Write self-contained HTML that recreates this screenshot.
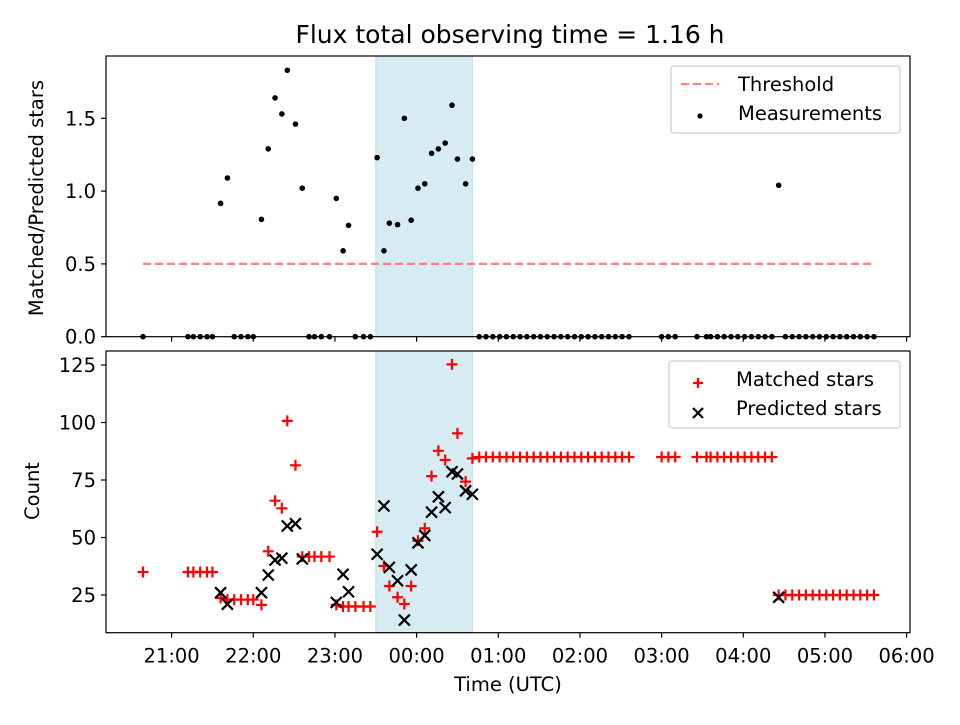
<!DOCTYPE html>
<html><head><meta charset="utf-8"><style>
body{margin:0;background:#fff;}
svg text{font-family:"DejaVu Sans","Liberation Sans",sans-serif;fill:#000;}
</style></head><body>
<svg id="chart" width="960" height="720" xmlns="http://www.w3.org/2000/svg">
<rect width="960" height="720" fill="#fff"/>
<text x="510" y="43" font-size="25" text-anchor="middle">Flux total observing time = 1.16 h</text>
<g id="topPanel"></g><g id="botPanel"></g>
</svg>
<script>
// minutes since 20:00 UTC
const times = [39,72,76,81,86,90,96,101,106,111,116,120,126,131,136,141,145,151,156,161,165,170,176,181,186,190,195,201,206,211,216,220,226,231,236,241,246,251,256,261,266,270,276,281,
286,291,296,301,306,311,316,321,326,331,336,341,346,351,356,361,366,371,376,381,386,391,396,
420,425,430,446,453,456,461,466,471,476,481,486,491,496,501,
506,511,516,521,526,531,536,541,546,551,556,561,566,571,576];
const ratio = [0,0,0,0,0,0,0.916,1.09,0,0,0,0,0.806,1.29,1.64,1.53,1.83,1.46,1.02,0,0,0,0,0.95,0.59,0.765,0,0,0,1.23,0.59,0.78,0.77,1.50,0.80,1.02,1.05,1.26,1.29,1.33,1.59,1.22,1.05,1.22,
0,0,0,0,0,0,0,0,0,0,0,0,0,0,0,0,0,0,0,0,0,0,0,
0,0,0,0,0,0,0,0,0,0,0,0,0,0,0,
1.04,0,0,0,0,0,0,0,0,0,0,0,0,0,0];
const matched = [35,35,35,35,35,35,23.7,23,23,23,23,23,20.7,44,66,62.7,100.7,81.4,41.7,41.7,41.7,41.7,41.7,20.7,20,20,20,20,20,52.5,37.6,28.9,24,21.1,28.9,48.6,54,76.7,87.7,83.7,125.3,95.3,74.3,84.4,
85,85,85,85,85,85,85,85,85,85,85,85,85,85,85,85,85,85,85,85,85,85,85,
85,85,85,85,85,85,85,85,85,85,85,85,85,85,85,
25,25,25,25,25,25,25,25,25,25,25,25,25,25,25];
const predTimes = [96,101,126,131,136,141,145,151,156,181,186,190,211,216,220,226,231,236,241,246,251,256,261,266,270,276,281,506];
const predicted = [26,21,26,33.7,40.2,41,55,56,40.7,21.8,34,26.4,42.7,63.7,37,31.2,14.1,35.9,47.7,50.9,61,67.7,63,78.6,77.6,70.3,68.8,24];
const threshold = 0.5;
const thresholdRange = [39,576];
const spanRange = [210,281];
const xTickMins = [60,120,180,240,300,360,420,480,540,600];
const xTickLabels = ["21:00","22:00","23:00","00:00","01:00","02:00","03:00","04:00","05:00","06:00"];
const topTicks = [0,0.5,1.0,1.5];
const topTickLabels = ["0.0","0.5","1.0","1.5"];
const botTicks = [25,50,75,100,125];

(function(){
const NS="http://www.w3.org/2000/svg";
const L=106,R=910;
const X0=11.8,X1=602.5;
const FS=19.5;
const x=m=>L+(m-X0)/(X1-X0)*(R-L);
const T={top:56,bot:336.7,y0:0,y1:1.928};
const B={top:351,bot:632.7,y0:8.6,y1:131.1};
const yT=v=>T.bot-(v-T.y0)/(T.y1-T.y0)*(T.bot-T.top);
const yB=v=>B.bot-(v-B.y0)/(B.y1-B.y0)*(B.bot-B.top);
function mk(p,tag,a){const e=document.createElementNS(NS,tag);for(const k in a)e.setAttribute(k,a[k]);p.appendChild(e);return e;}
const gTop=document.getElementById('topPanel'), gBot=document.getElementById('botPanel');

function axes(g,P,ticks,labels,yf,showX,nm){
  let s=mk(g,'rect',{x:x(spanRange[0]),y:P.top,width:x(spanRange[1])-x(spanRange[0]),height:P.bot-P.top,fill:'rgba(173,216,230,0.5)',stroke:'rgba(173,216,230,0.8)','stroke-width':1});
  
  
  ticks.forEach((t,i)=>{
    const y=yf(t);
    mk(g,'line',{x1:L-5,x2:L,y1:y,y2:y,stroke:'#000','stroke-width':1.2});
    const tx=mk(g,'text',{x:L-10,y:y+7,'font-size':FS,'text-anchor':'end'});
    tx.textContent=labels[i];
    
    
  });
  xTickMins.forEach((m,i)=>{
    mk(g,'line',{x1:x(m),x2:x(m),y1:P.bot,y2:P.bot+5,stroke:'#000','stroke-width':1.2});
    if(showX){const tx=mk(g,'text',{x:x(m),y:P.bot+30,'font-size':FS,'text-anchor':'middle'});tx.textContent=xTickLabels[i];
    
    }
  });
}
axes(gTop,T,topTicks,topTickLabels,yT,false,'top');
axes(gBot,B,botTicks,botTicks.map(String),yB,true,'bottom');

let th=mk(gTop,'line',{x1:x(thresholdRange[0]),x2:x(thresholdRange[1]),y1:yT(threshold),y2:yT(threshold),stroke:'#ff7f7f','stroke-width':2.2,'stroke-dasharray':'8,4'});


times.forEach((m,i)=>{
  const c=mk(gTop,'circle',{cx:x(m),cy:yT(ratio[i]),r:2.8,fill:'#000'});
  
  
});
times.forEach((m,i)=>{
  const cx=x(m),cy=yB(matched[i]);
  const p=mk(gBot,'path',{d:`M${cx-5.5} ${cy}H${cx+5.5}M${cx} ${cy-5.5}V${cy+5.5}`,stroke:'#ff0000','stroke-width':2.2,fill:'none'});
  
  
});
predTimes.forEach((m,i)=>{
  const cx=x(m),cy=yB(predicted[i]);
  const p=mk(gBot,'path',{d:`M${cx-5.5} ${cy-5.5}L${cx+5.5} ${cy+5.5}M${cx-5.5} ${cy+5.5}L${cx+5.5} ${cy-5.5}`,stroke:'#000','stroke-width':2.2,fill:'none'});
  
  
});
[[gTop,T],[gBot,B]].forEach(([g,P],k)=>{
  const f=mk(g,'rect',{x:L,y:P.top,width:R-L,height:P.bot-P.top,fill:'none',stroke:'#000','stroke-width':1.2});
  
  
});
function lbl(t,a,nm){const e=mk(document.getElementById('chart'),'text',a);e.textContent=t;

}
lbl('Matched/Predicted stars',{x:0,y:0,'font-size':FS,'text-anchor':'middle',transform:'translate(43,198) rotate(-90)'},'top-y-axis-title');
lbl('Count',{x:0,y:0,'font-size':FS,'text-anchor':'middle',transform:'translate(39,491) rotate(-90)'},'bottom-y-axis-title');
lbl('Time (UTC)',{x:508,y:691,'font-size':FS,'text-anchor':'middle'},'x-axis-title');
function legend(g,bx,by,w,items,nm){
  const r=mk(g,'rect',{x:bx,y:by,width:w,height:67,rx:3,fill:'rgba(255,255,255,0.8)',stroke:'#ccc','stroke-width':1.2});
  
  
  items.forEach((it,i)=>{
    const cy=by+18+i*29, mx=bx+29;
    if(it.k==='dash')mk(g,'line',{x1:bx+10,x2:bx+48,y1:cy,y2:cy,stroke:'#ff7f7f','stroke-width':2.2,'stroke-dasharray':'8,4'});
    if(it.k==='dot')mk(g,'circle',{cx:mx,cy:cy+3,r:2.6,fill:'#000'});
    if(it.k==='plus')mk(g,'path',{d:`M${mx-5} ${cy+4}H${mx+5}M${mx} ${cy-1}V${cy+9}`,stroke:'#f00','stroke-width':2.2});
    if(it.k==='x')mk(g,'path',{d:`M${mx-5} ${cy}L${mx+5} ${cy+10}M${mx-5} ${cy+10}L${mx+5} ${cy}`,stroke:'#000','stroke-width':2.2});
    const t=mk(g,'text',{x:bx+67,y:cy+7,'font-size':FS});t.textContent=it.t;
    
    
  });
}
legend(gTop,671,66,229,[{k:'dash',t:'Threshold'},{k:'dot',t:'Measurements'}],'top-legend');
legend(gBot,669,361,231,[{k:'plus',t:'Matched stars'},{k:'x',t:'Predicted stars'}],'bottom-legend');
})();
</script>
</body></html>
